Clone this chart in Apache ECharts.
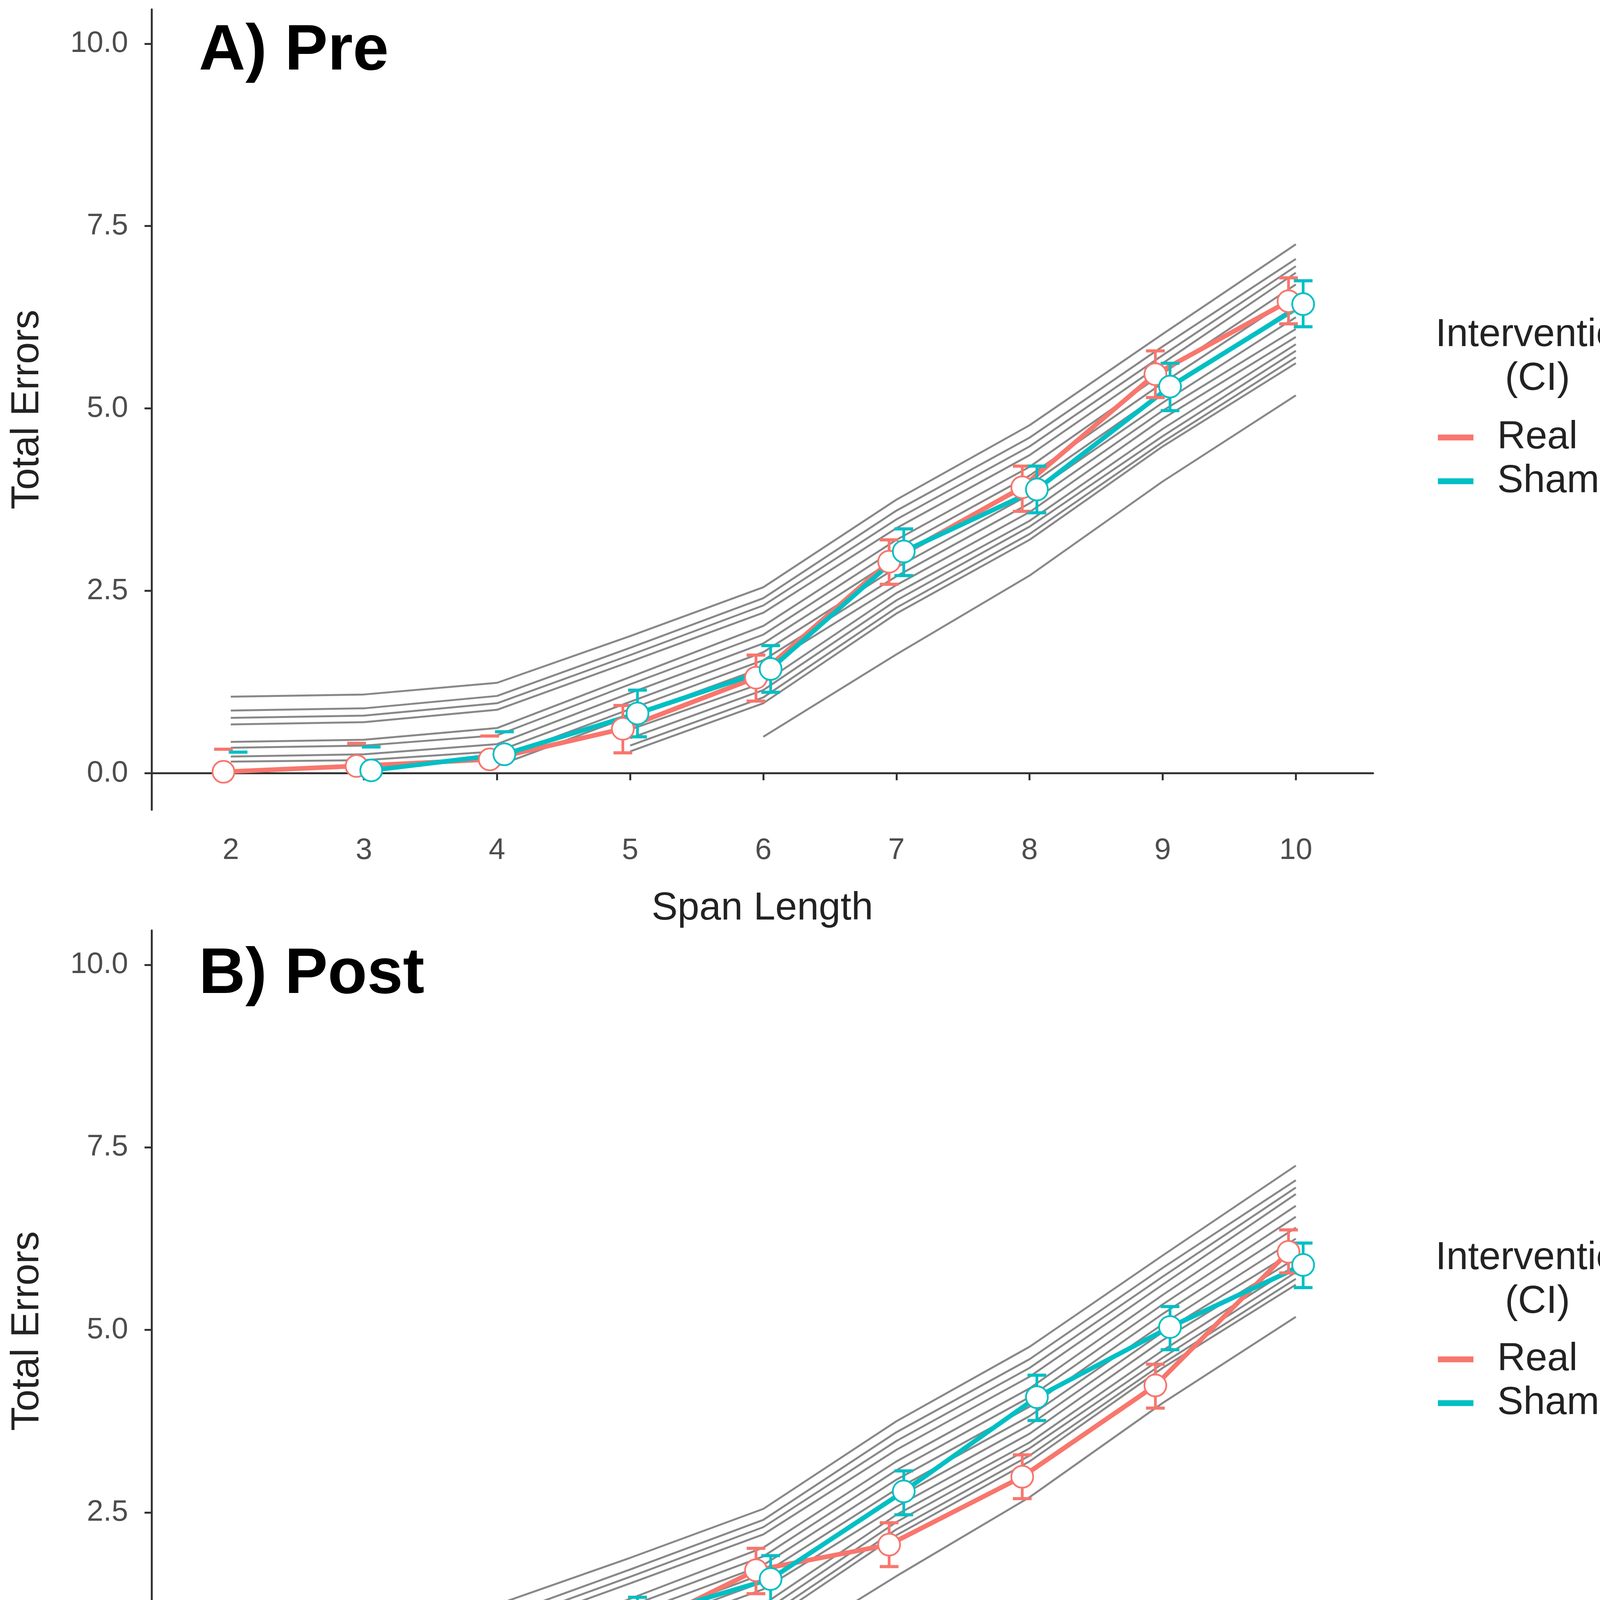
<!DOCTYPE html>
<html>
<head>
<meta charset="utf-8">
<script src="https://cdn.jsdelivr.net/npm/echarts@6.0.0/dist/echarts.min.js"></script>
<style>
  html, body { margin: 0; padding: 0; background: #fff; }
  #chart { width: 4213px; height: 4751px; }
</style>
</head>
<body>
<div id="chart"></div>
<script>
// span lengths (x) and y tick values
var spans = [2, 3, 4, 5, 6, 7, 8, 9, 10];
var yTicks = [0, 2.5, 5, 7.5, 10];

// reference curves (grey), same in both panels; null = no value at that span
var greyLines = [
    [1.05, 1.08, 1.24, 1.88, 2.55, 3.75, 4.77, 6.02, 7.25],
    [0.86, 0.89, 1.06, 1.72, 2.40, 3.60, 4.60, 5.85, 7.05],
    [0.76, 0.79, 0.96, 1.62, 2.30, 3.48, 4.48, 5.73, 6.95],
    [0.67, 0.70, 0.87, 1.53, 2.20, 3.36, 4.36, 5.62, 6.86],
    [0.43, 0.46, 0.62, 1.32, 2.02, 3.20, 4.20, 5.48, 6.70],
    [0.35, 0.38, 0.52, 1.22, 1.90, 3.08, 4.08, 5.35, 6.55],
    [0.23, 0.26, 0.40, 1.10, 1.78, 2.95, 3.95, 5.22, 6.40],
    [0.16, 0.18, 0.30, 0.98, 1.66, 2.82, 3.82, 5.08, 6.25],
    [null, null, 0.20, 0.88, 1.55, 2.70, 3.70, 4.97, 6.09],
    [null, null, 0.10, 0.78, 1.45, 2.58, 3.58, 4.86, 5.98],
    [null, null, null, 0.60, 1.24, 2.47, 3.46, 4.72, 5.88],
    [null, null, null, 0.48, 1.14, 2.37, 3.38, 4.62, 5.79],
    [null, null, null, 0.38, 1.04, 2.27, 3.28, 4.54, 5.70],
    [null, null, null, 0.30, 0.96, 2.19, 3.20, 4.48, 5.62],
    [null, null, null, null, 0.50, 1.63, 2.71, 4.00, 5.18]
];

// A) Pre
var preRealMean = [0.02, 0.10, 0.19, 0.61, 1.31, 2.90, 3.92, 5.47, 6.47];
var preRealLo   = [null, null, null, 0.28, 0.99, 2.59, 3.59, 5.15, 6.16];
var preRealHi   = [0.33, 0.41, 0.51, 0.93, 1.62, 3.20, 4.21, 5.79, 6.79];
var preShamMean = [null, 0.04, 0.26, 0.82, 1.43, 3.04, 3.89, 5.30, 6.43];
var preShamLo   = [null, null, null, 0.50, 1.11, 2.71, 3.57, 4.97, 6.12];
var preShamHi   = [0.29, 0.36, 0.57, 1.14, 1.75, 3.35, 4.21, 5.62, 6.75];

// B) Post
var postRealMean = [0.05, 0.04, 0.13, 0.81, 1.71, 2.06, 2.99, 4.24, 6.07];
var postRealLo   = [null, null, null, 0.49, 1.39, 1.76, 2.69, 3.93, 5.78];
var postRealHi   = [0.36, 0.35, 0.44, 1.14, 2.01, 2.36, 3.29, 4.53, 6.37];
var postShamMean = [0.03, 0.02, 0.19, 1.05, 1.59, 2.79, 4.08, 5.04, 5.89];
var postShamLo   = [null, null, null, 0.71, 1.28, 2.47, 3.76, 4.73, 5.58];
var postShamHi   = [0.32, 0.32, 0.49, 1.34, 1.91, 3.07, 4.38, 5.32, 6.19];

var RED = '#F8766D';
var CYAN = '#00BFC4';
var FONT = 'Liberation Sans, Arial, Helvetica, sans-serif';
var DODGE = 0.055;

function pairs(values, offset) {
    var out = [];
    values.forEach(function (v, i) {
        if (v !== null) out.push([spans[i] + offset, v]);
    });
    return out;
}

function errData(lo, hi, offset) {
    return spans.map(function (s, i) {
        return [s + offset, lo[i] === null ? '-' : lo[i], hi[i]];
    });
}

function renderErr(params, api) {
    var x = api.value(0), lo = api.value(1), hi = api.value(2);
    var color = api.visual('color');
    var half = 24;
    var top = api.coord([x, hi]);
    var kids = [{
        type: 'line',
        shape: { x1: top[0] - half, y1: top[1], x2: top[0] + half, y2: top[1] },
        style: { stroke: color, lineWidth: 8 }
    }];
    if (lo !== null && !isNaN(lo)) {
        var bot = api.coord([x, lo]);
        kids.push({
            type: 'line',
            shape: { x1: top[0], y1: top[1], x2: bot[0], y2: bot[1] },
            style: { stroke: color, lineWidth: 7 }
        });
        kids.push({
            type: 'line',
            shape: { x1: bot[0] - half, y1: bot[1], x2: bot[0] + half, y2: bot[1] },
            style: { stroke: color, lineWidth: 8 }
        });
    }
    return { type: 'group', children: kids };
}

function panelSeries(idx, realMean, realLo, realHi, shamMean, shamLo, shamHi) {
    var list = [];
    greyLines.forEach(function (g) {
        list.push({
            type: 'line', xAxisIndex: idx, yAxisIndex: idx, z: 1,
            data: pairs(g, 0), showSymbol: false, silent: true,
            lineStyle: { color: '#888888', width: 5 }
        });
    });
    [['Real', RED, realMean, -DODGE],
     ['Sham', CYAN, shamMean, DODGE]].forEach(function (g) {
        list.push({
            name: g[0], type: 'line', xAxisIndex: idx, yAxisIndex: idx, z: 2,
            data: pairs(g[2], g[3]), showSymbol: false, color: g[1],
            lineStyle: { color: g[1], width: 12 }
        });
    });
    [['Real CI', RED, realLo, realHi, -DODGE],
     ['Sham CI', CYAN, shamLo, shamHi, DODGE]].forEach(function (g) {
        list.push({
            name: g[0], type: 'custom', xAxisIndex: idx, yAxisIndex: idx, z: 3,
            renderItem: renderErr, itemStyle: { color: g[1] },
            encode: { x: 0, y: [1, 2] },
            data: errData(g[2], g[3], g[4])
        });
    });
    [['Real mean', RED, realMean, -DODGE],
     ['Sham mean', CYAN, shamMean, DODGE]].forEach(function (g) {
        list.push({
            name: g[0], type: 'scatter', xAxisIndex: idx, yAxisIndex: idx, z: 4,
            symbol: 'circle', symbolSize: 56,
            itemStyle: { color: '#ffffff', borderColor: g[1], borderWidth: 4.5, opacity: 1 },
            data: pairs(g[2], g[3])
        });
    });
    return list;
}

function xAxis(idx) {
    return {
        type: 'value', gridIndex: idx, min: 1.405, max: 10.58,
        name: 'Span Length', nameLocation: 'middle', nameGap: 203,
        nameTextStyle: { fontSize: 100, color: '#222', fontFamily: FONT },
        axisLine: { lineStyle: { color: '#333', width: 5 } },
        axisTick: { customValues: spans, length: 18, lineStyle: { color: '#333', width: 5 } },
        axisLabel: { customValues: spans, fontSize: 76, color: '#4d4d4d', fontFamily: FONT, margin: 67 },
        splitLine: { show: false }
    };
}

function yAxis(idx) {
    return {
        type: 'value', gridIndex: idx, min: -0.5, max: 10.47,
        name: 'Total Errors', nameLocation: 'middle', nameGap: 268, nameRotate: 90,
        nameTextStyle: { fontSize: 100, color: '#222', fontFamily: FONT },
        axisLine: { show: true, lineStyle: { color: '#333', width: 5 } },
        axisTick: { show: true, customValues: yTicks, length: 18, lineStyle: { color: '#333', width: 5 } },
        axisLabel: {
            customValues: yTicks, fontSize: 76, color: '#4d4d4d', fontFamily: FONT, margin: 60,
            formatter: function (v) { return v.toFixed(1); }
        },
        splitLine: { show: false }
    };
}

function legend(top) {
    return {
        orient: 'vertical', left: 3681, top: top, padding: 0,
        itemWidth: 91, itemHeight: 15, itemGap: 12, icon: 'rect',
        data: ['Real', 'Sham'], selectedMode: false,
        textStyle: { fontSize: 100, color: '#222', fontFamily: FONT, padding: [0, 0, 0, 56] }
    };
}

function legendTitle(cy) {
    return {
        type: 'text', x: 3936, y: cy, silent: true,
        style: {
            text: 'Intervention\n(CI)', font: '100px ' + FONT, fill: '#222',
            align: 'center', textAlign: 'center', verticalAlign: 'middle', textVerticalAlign: 'middle',
            lineHeight: 112
        }
    };
}

var chart = echarts.init(document.getElementById('chart'), null, { renderer: 'canvas' });
chart.setOption({
    animation: false,
    backgroundColor: '#ffffff',
    title: [
        { text: 'A) Pre', left: 509, top: 50, padding: 0,
          textStyle: { fontSize: 165, fontWeight: 'bold', color: '#000', fontFamily: FONT } },
        { text: 'B) Post', left: 509, top: 2414, padding: 0,
          textStyle: { fontSize: 165, fontWeight: 'bold', color: '#000', fontFamily: FONT } }
    ],
    grid: [
        { left: 388, top: 24, width: 3127, height: 2049 },
        { left: 388, top: 2382, width: 3127, height: 2051 }
    ],
    xAxis: [xAxis(0), xAxis(1)],
    yAxis: [yAxis(0), yAxis(1)],
    legend: [legend(1070), legend(3430)],
    graphic: [legendTitle(914), legendTitle(3277)],
    series: panelSeries(0, preRealMean, preRealLo, preRealHi, preShamMean, preShamLo, preShamHi)
        .concat(panelSeries(1, postRealMean, postRealLo, postRealHi, postShamMean, postShamLo, postShamHi))
});
</script>
</body>
</html>
